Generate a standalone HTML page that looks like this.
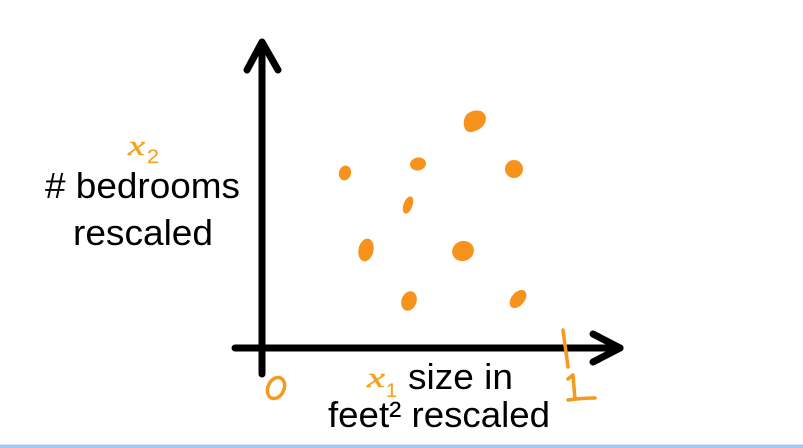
<!DOCTYPE html>
<html><head><meta charset="utf-8"><style>
html,body{margin:0;padding:0;background:#fff;}
body{width:803px;height:448px;overflow:hidden;}
svg{display:block;}
</style></head><body>
<svg width="803" height="448" viewBox="0 0 803 448" xmlns="http://www.w3.org/2000/svg">
<rect width="803" height="448" fill="#fff"/>
<!-- axes -->
<g stroke="#000" stroke-width="7" fill="none" stroke-linecap="round" stroke-linejoin="round">
<line x1="262" y1="43" x2="262" y2="374"/>
<polyline points="247,70 262,42 278,70"/>
<line x1="235" y1="348" x2="620" y2="348"/>
<polyline points="593,334 620,348 593,362"/>
</g>
<!-- labels -->
<g font-family="Liberation Sans, Arial, sans-serif" font-size="36" fill="#000">
<text x="45" y="198" textLength="195" lengthAdjust="spacingAndGlyphs"># bedrooms</text>
<text x="73" y="245" textLength="140" lengthAdjust="spacingAndGlyphs">rescaled</text>
<text x="408" y="389" textLength="105" lengthAdjust="spacingAndGlyphs">size in</text>
<text x="328" y="427" textLength="222" lengthAdjust="spacingAndGlyphs">feet² rescaled</text>
</g>
<g fill="#f4a321" stroke="#f4a321">
<text x="128" y="155" stroke-width="0.4" font-family="Liberation Serif, serif" font-style="italic" font-size="29" textLength="17" lengthAdjust="spacingAndGlyphs">x</text>
<text x="147" y="163" stroke-width="0.2" font-family="Liberation Sans, sans-serif" font-size="19" textLength="12" lengthAdjust="spacingAndGlyphs">2</text>
<text x="367" y="387" stroke-width="0.4" font-family="Liberation Serif, serif" font-style="italic" font-size="29" textLength="18" lengthAdjust="spacingAndGlyphs">x</text>
<text x="386" y="397" stroke-width="0.2" font-family="Liberation Sans, sans-serif" font-size="19" textLength="11" lengthAdjust="spacingAndGlyphs">1</text>
</g>
<!-- handwritten 0 and 1 -->
<g stroke="#f59a1c" stroke-width="3.5" fill="none" stroke-linecap="round" stroke-linejoin="round">
<ellipse cx="276" cy="388" rx="8" ry="11" transform="rotate(25 276 388)"/>
<path d="M563,330 L568,367"/>
<path d="M568,379 L573,375 L575,399 M568,400 Q582,398 595,398"/>
</g>
<!-- dots -->
<g fill="#f7921c">
<path d="M466,115 Q472,109 481,111 Q488,115 485,123 Q482,129 475,131 Q468,134 465,129 Q462,122 466,115 Z"/>
<ellipse cx="418" cy="164" rx="8" ry="6.5" transform="rotate(-10 418 164)"/>
<ellipse cx="345" cy="173" rx="6" ry="7.5" transform="rotate(15 345 173)"/>
<ellipse cx="514" cy="169" rx="9" ry="9"/>
<ellipse cx="408" cy="205" rx="4.5" ry="9" transform="rotate(20 408 205)"/>
<ellipse cx="366" cy="250" rx="7.5" ry="11.5" transform="rotate(12 366 250)"/>
<ellipse cx="463" cy="251" rx="11" ry="10" transform="rotate(-20 463 251)"/>
<ellipse cx="409" cy="301" rx="7.5" ry="10" transform="rotate(20 409 301)"/>
<ellipse cx="518" cy="299" rx="6.5" ry="10.5" transform="rotate(40 518 299)"/>
</g>
<!-- bottom bar -->
<rect x="0" y="444" width="803" height="1" fill="#d6e6f8"/>
<rect x="0" y="445" width="803" height="3" fill="#a6c6ee"/>
</svg>
</body></html>
